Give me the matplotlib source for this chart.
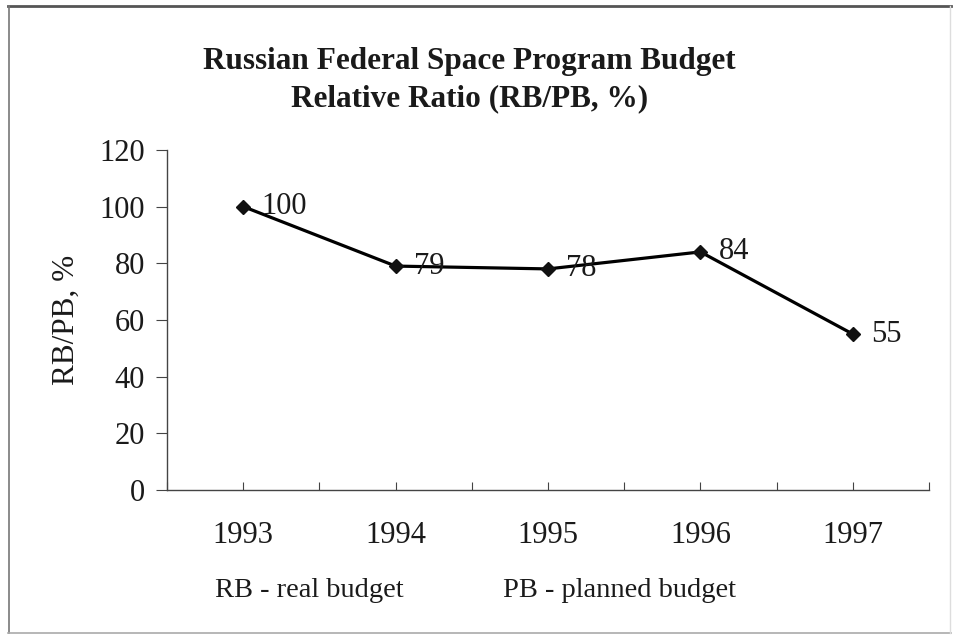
import matplotlib
matplotlib.use("Agg")
import matplotlib.pyplot as plt
from matplotlib.lines import Line2D

years = ["1993", "1994", "1995", "1996", "1997"]
ratio = [100, 79, 78, 84, 55]
y_ticks = [0, 20, 40, 60, 80, 100, 120]

plt.rcParams["font.family"] = ["Liberation Serif", "DejaVu Serif"]

fig = plt.figure(figsize=(9.56, 6.43), dpi=100)
ax = fig.add_axes([0.1747, 0.238, 0.7971, 0.5289])

x = list(range(len(years)))
ax.plot(x, ratio, color="black", lw=2.3, marker="D", ms=7.5,
        markerfacecolor="#111111", markeredgecolor="#111111")
for xi, v in zip(x, ratio):
    ax.annotate(str(v), (xi, v), xytext=(13, 0), textcoords="offset points",
                ha="left", va="center", fontsize=22, color="#1a1a1a")

ax.set_xlim(-0.5, len(years) - 0.5)
ax.set_ylim(0, 120)
ax.set_yticks(y_ticks)
ax.set_yticklabels([str(t) for t in y_ticks], fontsize=22, color="#1a1a1a")
ax.set_xticks([i * 0.5 - 0.5 for i in range(2 * len(years) + 1)])
ax.set_xticklabels([])
ax.tick_params(axis="x", direction="in", length=6, width=0.8, color="#444444")
ax.tick_params(axis="y", direction="out", length=8, width=0.8, color="#444444", pad=8)
for xi, lab in zip(x, years):
    ax.text(xi, -0.135, lab, transform=ax.get_xaxis_transform(),
            ha="center", va="center", fontsize=22, color="#1a1a1a")

for s in ["top", "right"]:
    ax.spines[s].set_visible(False)
for s in ["left", "bottom"]:
    ax.spines[s].set_color("#444444")
    ax.spines[s].set_linewidth(1.0)

ax.set_ylabel("RB/PB, %", fontsize=22.5, color="#1a1a1a")
ax.yaxis.set_label_coords(-0.113, 0.5)

fig.text(0.491, 0.905, "Russian Federal Space Program Budget", ha="center",
         va="center", fontsize=22.5, fontweight="bold", color="#1a1a1a")
fig.text(0.491, 0.846, "Relative Ratio (RB/PB, %)", ha="center",
         va="center", fontsize=22.5, fontweight="bold", color="#1a1a1a")

fig.text(0.225, 0.082, "RB - real budget", ha="left", va="center",
         fontsize=20.5, color="#1a1a1a")
fig.text(0.526, 0.082, "PB - planned budget", ha="left", va="center",
         fontsize=20.5, color="#1a1a1a")

# outer frame of the figure
fig.add_artist(Line2D([0.008, 0.995], [0.991, 0.991], color="#555555", lw=2))
fig.add_artist(Line2D([0.009, 0.009], [0.015, 0.991], color="#777777", lw=1.2))
fig.add_artist(Line2D([0.008, 0.995], [0.016, 0.016], color="#aaaaaa", lw=1.2))
fig.add_artist(Line2D([0.994, 0.994], [0.015, 0.991], color="#dddddd", lw=1.0))

fig.savefig("out.png", dpi=100)
